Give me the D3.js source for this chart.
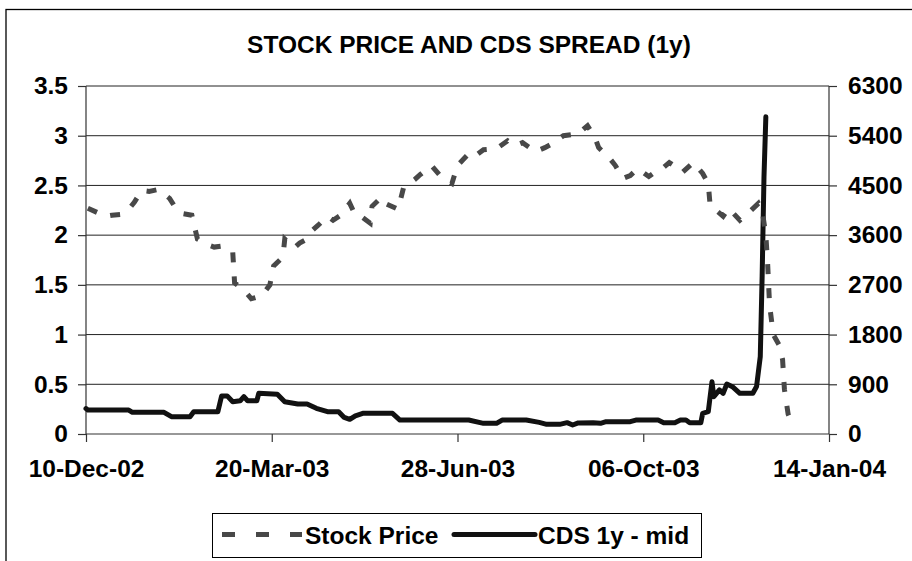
<!DOCTYPE html>
<html>
<head>
<meta charset="utf-8">
<script src="https://cdn.jsdelivr.net/npm/d3@7"></script>
<style>
  html, body { margin: 0; padding: 0; background: #fff; }
  svg { display: block; }
  text { font-family: "Liberation Sans", Arial, Helvetica, sans-serif; font-weight: bold; fill: #000; }
</style>
</head>
<body>
<svg id="chart" width="912" height="561"></svg>
<script>
const titleText = "STOCK PRICE AND CDS SPREAD (1y)";
const seriesNames = ["Stock Price", "CDS 1y - mid"];

const xTickDates = ["2002-12-10", "2003-03-20", "2003-06-28", "2003-10-06", "2004-01-14"];
const xTickLabels = ["10-Dec-02", "20-Mar-03", "28-Jun-03", "06-Oct-03", "14-Jan-04"];
const leftTicks = [0, 0.5, 1, 1.5, 2, 2.5, 3, 3.5];
const leftTickLabels = ["0", "0.5", "1", "1.5", "2", "2.5", "3", "3.5"];
const rightTicks = [0, 900, 1800, 2700, 3600, 4500, 5400, 6300];
const rightTickLabels = ["0", "900", "1800", "2700", "3600", "4500", "5400", "6300"];

const stockDates = ["2002-12-11","2002-12-17","2002-12-21","2002-12-24","2002-12-29","2003-01-02","2003-01-05","2003-01-09","2003-01-13","2003-01-18","2003-01-24","2003-01-27","2003-01-30","2003-02-05","2003-02-08","2003-02-14","2003-02-17","2003-02-21","2003-02-27","2003-02-28","2003-03-05","2003-03-09","2003-03-13","2003-03-15","2003-03-19","2003-03-21","2003-03-26","2003-03-27","2003-04-01","2003-04-04","2003-04-07","2003-04-11","2003-04-14","2003-04-19","2003-04-22","2003-04-26","2003-05-01","2003-05-04","2003-05-07","2003-05-12","2003-05-13","2003-05-18","2003-05-20","2003-05-27","2003-05-30","2003-06-05","2003-06-08","2003-06-14","2003-06-19","2003-06-25","2003-06-28","2003-07-04","2003-07-07","2003-07-12","2003-07-19","2003-07-25","2003-07-29","2003-08-02","2003-08-09","2003-08-14","2003-08-18","2003-08-24","2003-09-01","2003-09-06","2003-09-10","2003-09-12","2003-09-18","2003-09-21","2003-09-25","2003-09-29","2003-10-03","2003-10-09","2003-10-12","2003-10-15","2003-10-20","2003-10-24","2003-10-27","2003-11-02","2003-11-07","2003-11-10","2003-11-11","2003-11-18","2003-11-21","2003-11-27","2003-11-30","2003-12-02","2003-12-07","2003-12-09","2003-12-11","2003-12-12","2003-12-13","2003-12-15","2003-12-18","2003-12-20","2003-12-21","2003-12-23","2003-12-25"];
const stockPrice = [2.27,2.22,2.19,2.20,2.21,2.26,2.33,2.45,2.44,2.46,2.37,2.28,2.22,2.20,1.96,1.90,1.88,1.89,1.83,1.52,1.45,1.36,1.38,1.40,1.50,1.69,1.78,1.96,1.87,1.92,1.95,2.05,2.10,2.19,2.15,2.20,2.32,2.20,2.19,2.12,2.29,2.38,2.32,2.26,2.48,2.56,2.61,2.70,2.59,2.52,2.70,2.82,2.79,2.86,2.87,2.95,2.90,2.93,2.84,2.88,2.92,3.00,3.02,3.10,2.98,2.88,2.77,2.70,2.57,2.60,2.67,2.59,2.63,2.65,2.73,2.68,2.63,2.73,2.62,2.52,2.30,2.19,2.27,2.15,2.20,2.23,2.32,2.25,2.00,1.70,1.30,1.00,0.90,0.75,0.45,0.20,0.11];

const cdsDates = ["2002-12-10","2002-12-11","2003-01-02","2003-01-04","2003-01-21","2003-01-25","2003-02-04","2003-02-06","2003-02-19","2003-02-21","2003-02-24","2003-02-27","2003-03-03","2003-03-05","2003-03-07","2003-03-12","2003-03-13","2003-03-23","2003-03-27","2003-04-03","2003-04-08","2003-04-13","2003-04-19","2003-04-25","2003-04-28","2003-05-01","2003-05-04","2003-05-08","2003-05-24","2003-05-28","2003-07-04","2003-07-12","2003-07-19","2003-07-22","2003-08-04","2003-08-11","2003-08-15","2003-08-22","2003-08-26","2003-08-29","2003-09-01","2003-09-09","2003-09-13","2003-09-16","2003-09-29","2003-10-02","2003-10-14","2003-10-17","2003-10-23","2003-10-26","2003-10-29","2003-10-31","2003-11-06","2003-11-07","2003-11-10","2003-11-12","2003-11-13","2003-11-16","2003-11-18","2003-11-20","2003-11-23","2003-11-27","2003-12-04","2003-12-06","2003-12-08","2003-12-09","2003-12-10","2003-12-11"];
const cdsSpread = [460,434,434,393,393,313,313,404,404,688,690,585,600,676,603,603,737,719,585,543,543,465,404,404,300,266,330,374,374,253,253,193,193,253,253,210,175,175,205,163,200,205,193,223,223,253,253,205,205,253,253,205,205,374,404,947,676,797,737,905,857,737,737,860,1400,2848,4658,5744];

const parse = d3.timeParse("%Y-%m-%d");
const svg = d3.select("#chart");
const fontSize = 24.5;

// outer chart frame (cropped at right/bottom like the reference)
svg.append("rect").attr("x", 6).attr("y", 9.5).attr("width", 1000).attr("height", 700)
  .attr("fill", "#fff").attr("stroke", "#000").attr("stroke-width", 1.3);

const x = d3.scaleTime().domain([parse(xTickDates[0]), parse(xTickDates[xTickDates.length - 1])]).range([86, 829]);
const yL = d3.scaleLinear().domain([0, 3.5]).range([434, 86]);
const yR = d3.scaleLinear().domain([0, 6300]).range([434, 86]);

// gridlines
svg.append("g").selectAll("line").data(leftTicks.slice(1)).join("line")
  .attr("x1", 86).attr("x2", 829)
  .attr("y1", d => yL(d)).attr("y2", d => yL(d))
  .attr("stroke", "#222").attr("stroke-width", 1);

// left axis
const gL = svg.append("g").attr("transform", "translate(86,0)")
  .call(d3.axisLeft(yL).tickValues(leftTicks).tickSize(8).tickPadding(10)
    .tickFormat((d, i) => leftTickLabels[i]));
// right axis
const gR = svg.append("g").attr("transform", "translate(829,0)")
  .call(d3.axisRight(yR).tickValues(rightTicks).tickSize(8).tickPadding(11)
    .tickFormat((d, i) => rightTickLabels[i]));
// bottom axis
const gB = svg.append("g").attr("transform", "translate(0,434)")
  .call(d3.axisBottom(x).tickValues(xTickDates.map(parse)).tickSize(8).tickPadding(18)
    .tickFormat((d, i) => xTickLabels[i]));

[gL, gR, gB].forEach(g => {
  g.select(".domain").attr("stroke", "#333").attr("stroke-width", 1.2);
  g.selectAll(".tick line").attr("stroke", "#333").attr("stroke-width", 1.2);
  g.selectAll("text").attr("font-size", fontSize).attr("font-weight", "bold")
    .attr("font-family", "'Liberation Sans', Arial, sans-serif").attr("fill", "#000");
});
gL.select(".domain").attr("d", "M0,434V86");
gR.select(".domain").attr("d", "M0,434V86");
gB.select(".domain").attr("d", "M86,0H829");

// CDS line (right axis)
const cdsData = cdsDates.map((d, i) => ({ date: parse(d), v: cdsSpread[i] }));
svg.append("path").datum(cdsData)
  .attr("d", d3.line().x(d => x(d.date)).y(d => yR(d.v)))
  .attr("fill", "none").attr("stroke", "#111").attr("stroke-width", 5)
  .attr("stroke-linejoin", "round").attr("stroke-linecap", "round");

// Stock price line (left axis)
const stockData = stockDates.map((d, i) => ({ date: parse(d), v: stockPrice[i] }));
svg.append("path").datum(stockData)
  .attr("d", d3.line().x(d => x(d.date)).y(d => yL(d.v)))
  .attr("fill", "none").attr("stroke", "#484848").attr("stroke-width", 5)
  .attr("stroke-dasharray", "10,14").attr("stroke-linejoin", "miter");

// title
svg.append("text").attr("x", 469).attr("y", 53).attr("text-anchor", "middle")
  .attr("font-size", fontSize).text(titleText);

// legend
const lg = svg.append("g");
lg.append("rect").attr("x", 212.5).attr("y", 513.5).attr("width", 489).attr("height", 44)
  .attr("fill", "#fff").attr("stroke", "#000").attr("stroke-width", 1);
lg.append("line").attr("x1", 222).attr("x2", 302).attr("y1", 534.5).attr("y2", 534.5)
  .attr("stroke", "#484848").attr("stroke-width", 5).attr("stroke-dasharray", "13,21");
lg.append("text").attr("x", 305).attr("y", 544).attr("font-size", fontSize).text(seriesNames[0]);
lg.append("line").attr("x1", 454).attr("x2", 535).attr("y1", 534.5).attr("y2", 534.5)
  .attr("stroke", "#111").attr("stroke-width", 5).attr("stroke-linecap", "round");
lg.append("text").attr("x", 538).attr("y", 544).attr("font-size", fontSize).text(seriesNames[1]);
</script>
</body>
</html>
